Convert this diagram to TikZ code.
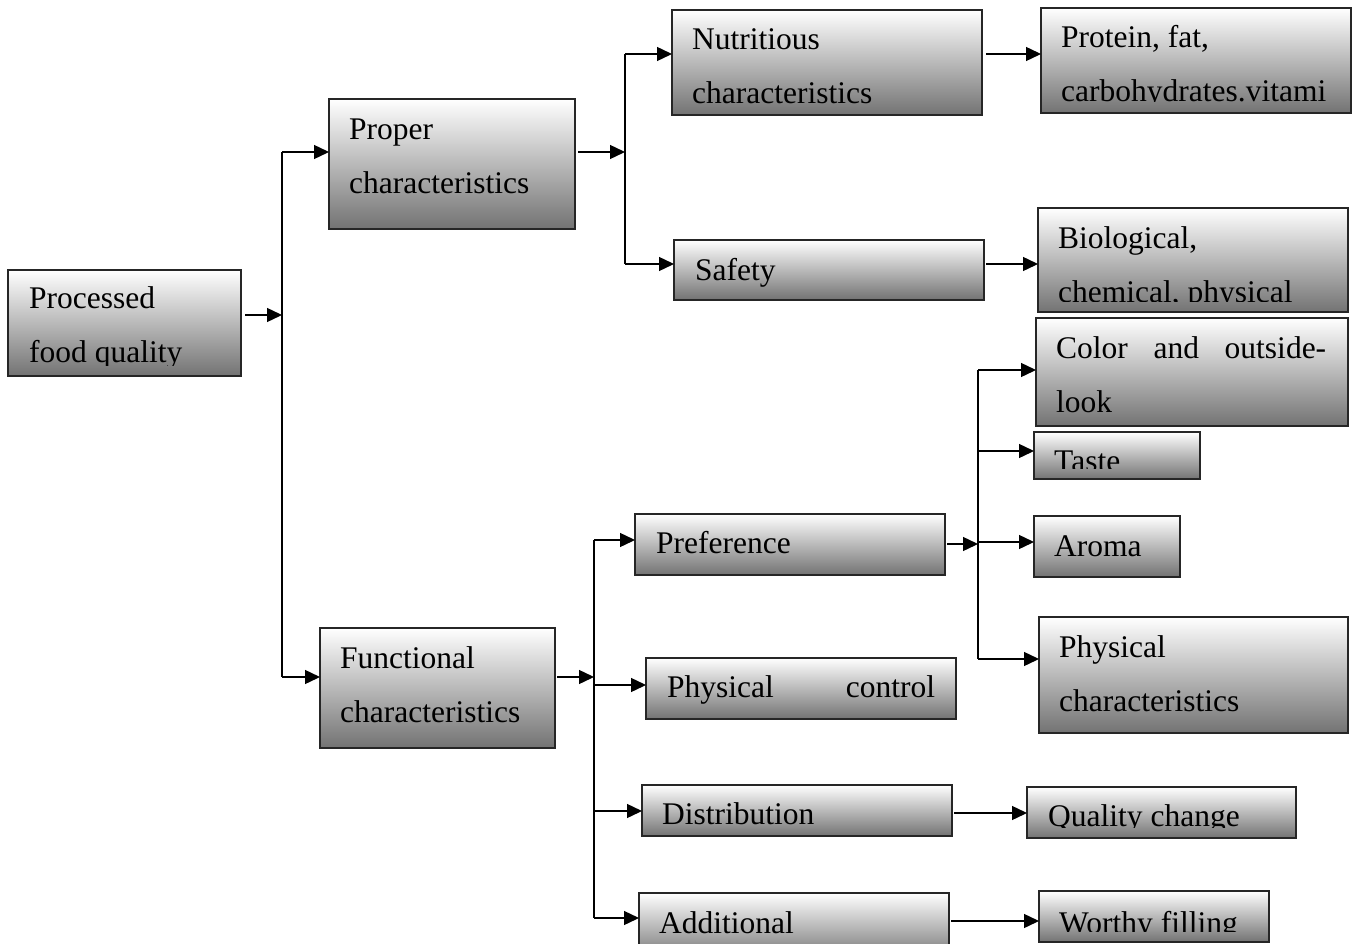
\documentclass[tikz,border=0pt]{standalone}
\usepackage{fontspec}
\setmainfont{Liberation Serif}
\usetikzlibrary{arrows.meta}
\tikzset{
  fb/.style={draw=black!85, line width=1.4pt, rectangle, inner sep=0pt, outer sep=0pt,
     anchor=north west, top color=white, bottom color=black!55},
  tx/.style={anchor=base west, inner sep=0pt, font=\fontsize{31.5}{54}\selectfont},
  ln/.style={line width=1.4pt, draw=black},
  arr/.style={ln, -{Triangle[length=15pt,width=14pt]}}
}
\newcommand\mkbox[6]{%
  \node[fb, minimum width={(#4-#2)*1pt}, minimum height={(#5-#3)*1pt}] (#1) at (#2,#3) {};
  \begin{scope}
    \clip (#2,#3) rectangle (#4,#5-11);
    #6
  \end{scope}}
\begin{document}
\begin{tikzpicture}[x=1pt,y=-1pt]
\clip (0,0) rectangle (1357,944);
\fill[white] (0,0) rectangle (1357,944);

% boxes
\mkbox{pfq}{8}{270}{241}{376}{\node[tx] at (29,308) {Processed}; \node[tx] at (29,362) {food quality};}
\mkbox{proper}{329}{99}{575}{229}{\node[tx] at (349,140) {Proper}; \node[tx] at (349,194) {characteristics};}
\mkbox{func}{320}{628}{555}{748}{\node[tx] at (340,668) {Functional}; \node[tx] at (340,722) {characteristics};}
\mkbox{nutr}{672}{10}{982}{115}{\node[tx] at (692,50) {Nutritious}; \node[tx] at (692,104) {characteristics};}
\mkbox{prot}{1041}{8}{1351}{113}{\node[tx] at (1061,48) {Protein, fat,}; \node[tx] at (1061,102) {carbohydrates.vitami};}
\mkbox{safety}{674}{240}{984}{300}{\node[tx] at (695,280) {Safety};}
\mkbox{bio}{1038}{208}{1348}{312}{\node[tx] at (1058,248) {Biological,}; \node[tx] at (1058,302) {chemical, physical};}
\mkbox{color}{1036}{318}{1348}{426}{\node[tx] at (1056,358) {\hbox to 270pt{Color\hfill and\hfill outside-}}; \node[tx] at (1056,412) {look};}
\mkbox{taste}{1034}{432}{1200}{479}{\node[tx] at (1054,471) {Taste};}
\mkbox{aroma}{1034}{516}{1180}{577}{\node[tx] at (1054,556) {Aroma};}
\mkbox{physc}{1039}{617}{1348}{733}{\node[tx] at (1059,657) {Physical}; \node[tx] at (1059,711) {characteristics};}
\mkbox{pref}{635}{514}{945}{575}{\node[tx] at (656,553) {Preference};}
\mkbox{pctl}{646}{658}{956}{719}{\node[tx] at (667,697) {\hbox to 268pt{Physical\hfill control}};}
\mkbox{dist}{642}{785}{952}{836}{\node[tx] at (662,824) {Distribution};}
\mkbox{addl}{639}{893}{949}{960}{\node[tx] at (659,933) {Additional};}
\mkbox{qchg}{1027}{787}{1296}{838}{\node[tx] at (1048,826) {Quality change};}
\mkbox{worthy}{1039}{891}{1269}{942}{\node[tx] at (1059,933) {Worthy filling};}

% junction coordinates
\coordinate (j1) at (282,315);
\coordinate (j1a) at (282,152);
\coordinate (j1b) at (282,677);
\coordinate (j2) at (625,152);
\coordinate (j2a) at (625,54);
\coordinate (j2b) at (625,264);
\coordinate (j3) at (594,677);
\coordinate (j3a) at (594,540);
\coordinate (j3b) at (594,685);
\coordinate (j3c) at (594,811);
\coordinate (j3d) at (594,918);
\coordinate (j4) at (978,544);
\coordinate (j4a) at (978,370);
\coordinate (j4b) at (978,451);
\coordinate (j4c) at (978,542);
\coordinate (j4d) at (978,659);

% level 1
\draw[arr] (pfq.east |- j1) ++(4,0) -- (j1);
\draw[ln] (j1a) -- (j1b);
\draw[arr] (j1a) -- (j1a -| proper.west);
\draw[arr] (j1b) -- (j1b -| func.west);

% proper branch
\draw[arr] (proper.east |- j2) ++(3,0) -- (j2);
\draw[ln] (j2a) -- (j2b);
\draw[arr] (j2a) -- (j2a -| nutr.west);
\draw[arr] (j2b) -- (j2b -| safety.west);
\draw[arr] (nutr.east |- j2a) ++(4,0) -- (j2a -| prot.west);
\draw[arr] (safety.east |- j2b) ++(2,0) -- (j2b -| bio.west);

% functional branch
\draw[arr] (func.east |- j3) ++(2,0) -- (j3);
\draw[ln] (j3a) -- (j3d);
\draw[arr] (j3a) -- (j3a -| pref.west);
\draw[arr] (j3b) -- (j3b -| pctl.west);
\draw[arr] (j3c) -- (j3c -| dist.west);
\draw[arr] (j3d) -- (j3d -| addl.west);

% preference branch
\draw[arr] (pref.east |- j4) ++(2,0) -- (j4);
\draw[ln] (j4a) -- (j4d);
\draw[arr] (j4a) -- (j4a -| color.west);
\draw[arr] (j4b) -- (j4b -| taste.west);
\draw[arr] (j4c) -- (j4c -| aroma.west);
\draw[arr] (j4d) -- (j4d -| physc.west);

% distribution / additional
\coordinate (d1) at (954,813);
\draw[arr] (d1) -- (d1 -| qchg.west);
\coordinate (a1) at (951,921);
\draw[arr] (a1) -- (a1 -| worthy.west);
\end{tikzpicture}
\end{document}
